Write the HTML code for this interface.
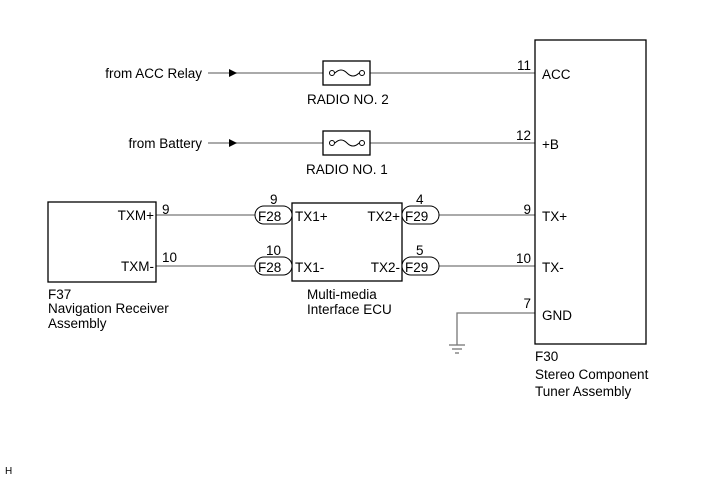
<!DOCTYPE html>
<html><head><style>body{margin:0;background:#fff}svg{display:block}text{font-family:"Liberation Sans",sans-serif;font-size:13.5px;fill:#000}</style></head><body>
<svg width="713" height="481" viewBox="0 0 713 481">
<g stroke="#777" stroke-width="1.3" fill="none">
<line x1="208" y1="73" x2="535" y2="73"/>
<line x1="208" y1="143" x2="535" y2="143"/>
<line x1="156" y1="215" x2="256" y2="215"/>
<line x1="156" y1="266" x2="256" y2="266"/>
<line x1="438" y1="215" x2="535" y2="215"/>
<line x1="438" y1="266" x2="535" y2="266"/>
<polyline points="535,313 457,313 457,345"/>
<line x1="449" y1="345" x2="465" y2="345"/>
<line x1="452" y1="349" x2="462" y2="349"/>
<line x1="455" y1="353" x2="459" y2="353"/>
</g>
<polygon points="229,69 237,73 229,77" fill="#000"/>
<polygon points="229,139 237,143 229,147" fill="#000"/>
<g stroke="#000" stroke-width="1.3" fill="#fff">
<rect x="323" y="61" width="47" height="24"/>
<rect x="323" y="131" width="47" height="24"/>
<rect x="48" y="202" width="108" height="80"/>
<rect x="292" y="203" width="110" height="78"/>
<rect x="535" y="40" width="111" height="304"/>
</g>
<g stroke="#000" stroke-width="1" fill="#fff">
<circle cx="332" cy="73" r="2.5"/><circle cx="362" cy="73" r="2.5"/>
<circle cx="332" cy="143" r="2.5"/><circle cx="362" cy="143" r="2.5"/>
<path d="M335,73 q6,-6 12,0 t12,0" fill="none"/>
<path d="M335,143 q6,-6 12,0 t12,0" fill="none"/>
<rect x="255" y="206" width="37" height="18" rx="9"/>
<rect x="255" y="257" width="37" height="18" rx="9"/>
<rect x="402" y="206" width="37" height="18" rx="9"/>
<rect x="402" y="257" width="37" height="18" rx="9"/>
</g>
<text x="202" y="78" text-anchor="end">from ACC Relay</text>
<text x="202" y="148" text-anchor="end">from Battery</text>
<text x="307" y="104">RADIO NO. 2</text>
<text x="306" y="174">RADIO NO. 1</text>
<text x="258" y="221">F28</text><text x="258" y="272">F28</text>
<text x="405" y="221">F29</text><text x="405" y="272">F29</text>
<text x="270" y="204">9</text><text x="266" y="255">10</text>
<text x="416" y="204">4</text><text x="416" y="255">5</text>
<text x="295" y="221">TX1+</text><text x="295" y="272">TX1-</text>
<text x="400" y="221" text-anchor="end">TX2+</text><text x="400" y="272" text-anchor="end">TX2-</text>
<text x="154" y="220" text-anchor="end">TXM+</text><text x="154" y="271" text-anchor="end">TXM-</text>
<text x="162" y="214">9</text><text x="162" y="262">10</text>
<text x="531" y="70" text-anchor="end">11</text>
<text x="531" y="140" text-anchor="end">12</text>
<text x="531" y="214" text-anchor="end">9</text>
<text x="531" y="263" text-anchor="end">10</text>
<text x="531" y="308" text-anchor="end">7</text>
<text x="542" y="79">ACC</text><text x="542" y="149">+B</text>
<text x="542" y="221">TX+</text><text x="542" y="272">TX-</text>
<text x="542" y="320">GND</text>
<text x="48" y="299">F37</text>
<text x="48" y="313">Navigation Receiver</text>
<text x="48" y="328">Assembly</text>
<text x="307" y="299">Multi-media</text>
<text x="307" y="314">Interface ECU</text>
<text x="535" y="361">F30</text>
<text x="535" y="379">Stereo Component</text>
<text x="535" y="396">Tuner Assembly</text>
<text x="5" y="474" style="font-size:10px">H</text>
</svg>
</body></html>
